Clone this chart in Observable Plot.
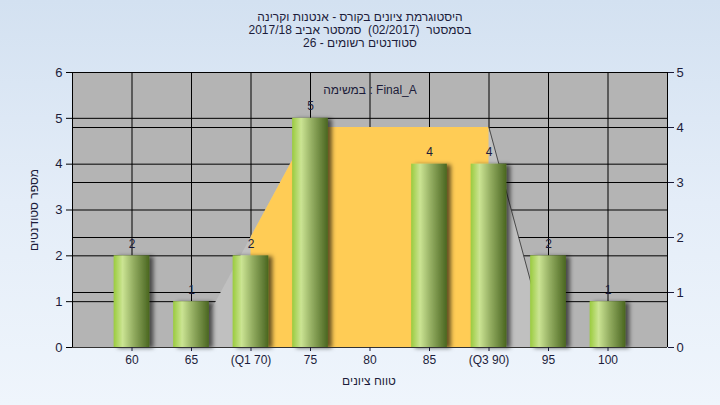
<!DOCTYPE html>
<html>
<head>
<meta charset="utf-8">
<script src="https://cdn.jsdelivr.net/npm/d3@7"></script>
<script src="https://cdn.jsdelivr.net/npm/@observablehq/plot@0.6"></script>
<style>
  html, body { margin: 0; padding: 0; }
  #wrap {
    position: relative; width: 720px; height: 405px; overflow: hidden;
    background: linear-gradient(to bottom, #d3e1f1 0%, #e4edf8 50%, #eff5fc 100%);
    font-family: "Liberation Sans", Arial, sans-serif;
  }
  #title {
    position: absolute; left: 0; top: 11px; width: 720px; text-align: center;
    font-size: 12px; line-height: 13px; color: #1c1c3a; direction: rtl; z-index: 2;
  }
  #title div { direction: rtl; unicode-bidi: plaintext; white-space: pre; }
  #ylab {
    position: absolute; left: 34px; top: 210px; transform: translate(-50%, -50%) rotate(-90deg);
    font-size: 12px; color: #1c1c3a; white-space: nowrap; direction: rtl; z-index: 2;
  }
  #xlab {
    position: absolute; left: 369px; top: 381px; transform: translate(-50%, -50%);
    font-size: 12px; color: #1c1c3a; white-space: nowrap; direction: rtl; z-index: 2;
  }
  #chart { position: absolute; left: 0; top: 0; }
</style>
</head>
<body>
<div id="wrap">
  <div id="title"></div>
  <div id="ylab"></div>
  <div id="xlab"></div>
  <div id="chart"></div>
</div>
<script>
// ---- data ----
const categories = [60, 65, 70, 75, 80, 85, 90, 95, 100];
const counts = [2, 1, 2, 5, 0, 4, 4, 2, 1];
const tickLabels = ["60", "65", "(Q1 70)", "75", "80", "85", "(Q3 90)", "95", "100"];
const leftTicks = [0, 1, 2, 3, 4, 5, 6];
const rightTicks = [0, 1, 2, 3, 4, 5];
const shapeX = [65, 75, 90, 95];      // distribution shape (right axis units)
const shapeR = [0, 4, 4, 0];
const q1 = 70, q3 = 90;
const titleLines = [
  "היסטוגרמת ציונים בקורס - אנטנות וקרינה",
  "בסמסטר  (02/2017)  סמסטר אביב 2017/18",
  "סטודנטים רשומים - 26"
];
const yTitle = "מספר סטודנטים";
const xTitle = "טווח ציונים";
const taskLabel = "במשימה : Final_A";

// ---- derived tables ----
const leftMax = d3.max(leftTicks), rightMax = d3.max(rightTicks);
const r2l = r => r * leftMax / rightMax;   // right-axis units -> left-axis units
const bars = categories.map((c, i) => ({c, n: counts[i]}));
const shape = shapeX.map((x, i) => ({x, y: r2l(shapeR[i])}));
const rightLine = shape.slice(2);
const labelOf = new Map(categories.map((c, i) => [c, tickLabels[i]]));

document.getElementById("title").innerHTML = titleLines.map(t => `<div>${t}</div>`).join("");
document.getElementById("ylab").textContent = yTitle;
document.getElementById("xlab").textContent = xTitle;

const ink = "#1c1c3a";
const chart = Plot.plot({
  width: 720, height: 405,
  marginLeft: 72, marginRight: 53, marginTop: 72, marginBottom: 58,
  style: {background: "transparent", fontFamily: "Liberation Sans, Arial, sans-serif", color: "#000", overflow: "visible"},
  x: {domain: [55, 105]},
  y: {domain: [0, leftMax]},
  marks: [
    Plot.frame({fill: "#b4b4b4", stroke: null}),
    // gridlines
    Plot.ruleY(leftTicks.filter(t => t > 0), {stroke: "#000", strokeWidth: 1}),
    Plot.ruleY(rightTicks.filter(t => t > 0).map(r2l), {stroke: "#000", strokeWidth: 1}),
    Plot.ruleX(categories, {stroke: "#000", strokeWidth: 1}),
    // distribution shape
    Plot.areaY(shape, {x: "x", y: "y", fill: "#c0c0c0", curve: "linear"}),
    Plot.areaY(shape, {x: "x", y: "y", fill: "#ffcc55", curve: "linear"}),
    Plot.line(rightLine, {x: "x", y: "y", stroke: "#4a4a4a", strokeWidth: 1}),
    // bars
    Plot.rectY(bars.filter(d => d.n > 0), {x1: d => d.c - 1.5, x2: d => d.c + 1.5, y: "n", fill: "url(#barGrad)"}),
    Plot.text(bars.filter(d => d.n > 0), {x: "c", y: "n", text: d => String(d.n), dy: -12, fill: ink, fontSize: 12}),
    Plot.text([taskLabel], {x: () => categories[4], frameAnchor: "top", dy: 13, fill: ink, fontSize: 12}),
    // axes
    Plot.ruleY([leftMax], {stroke: "#000"}),
    Plot.ruleY([0], {stroke: "#333"}),
    Plot.ruleX([55, 105], {stroke: "#000"}),
    Plot.axisY({anchor: "left", ticks: leftTicks, tickFormat: d => String(d), tickSize: 6, tickPadding: 4, fontSize: 13, label: null, color: ink, stroke: "#000"}),
    Plot.axisY({anchor: "right", ticks: rightTicks.map(r2l), tickFormat: d => String(Math.round(d * rightMax / leftMax)), tickSize: 6, tickPadding: 3, fontSize: 13, label: null, color: ink}),
    Plot.axisX({ticks: categories, tickFormat: d => labelOf.get(d), tickSize: 4, tickPadding: 4, fontSize: 12, label: null, color: ink})
  ]
});

// defs: gradient, shadow, clip
const ns = "http://www.w3.org/2000/svg";
const defs = document.createElementNS(ns, "defs");
const xs = chart.scale("x");
const cx1 = xs.apply(q1), cx2 = xs.apply(q3);
defs.innerHTML = `
  <linearGradient id="barGrad" x1="0" y1="0" x2="1" y2="0">
    <stop offset="0" stop-color="#9acb3e"/>
    <stop offset="0.25" stop-color="#cbe493"/>
    <stop offset="0.55" stop-color="#94ae62"/>
    <stop offset="1" stop-color="#4a6620"/>
  </linearGradient>
  <filter id="barShadow" x="-20%" y="-5%" width="150%" height="110%">
    <feDropShadow dx="4" dy="1" stdDeviation="2" flood-color="#000" flood-opacity="0.6"/>
  </filter>
  <clipPath id="iqrClip"><rect x="${cx1}" y="0" width="${cx2 - cx1}" height="405"/></clipPath>`;
chart.insertBefore(defs, chart.firstChild);
const areas = chart.querySelectorAll('g[aria-label="area"]');
if (areas[1]) areas[1].setAttribute("clip-path", "url(#iqrClip)");
const rects = chart.querySelectorAll('g[aria-label="rect"]');
rects.forEach(g => g.setAttribute("filter", "url(#barShadow)"));
document.getElementById("chart").appendChild(chart);
</script>
</body>
</html>
